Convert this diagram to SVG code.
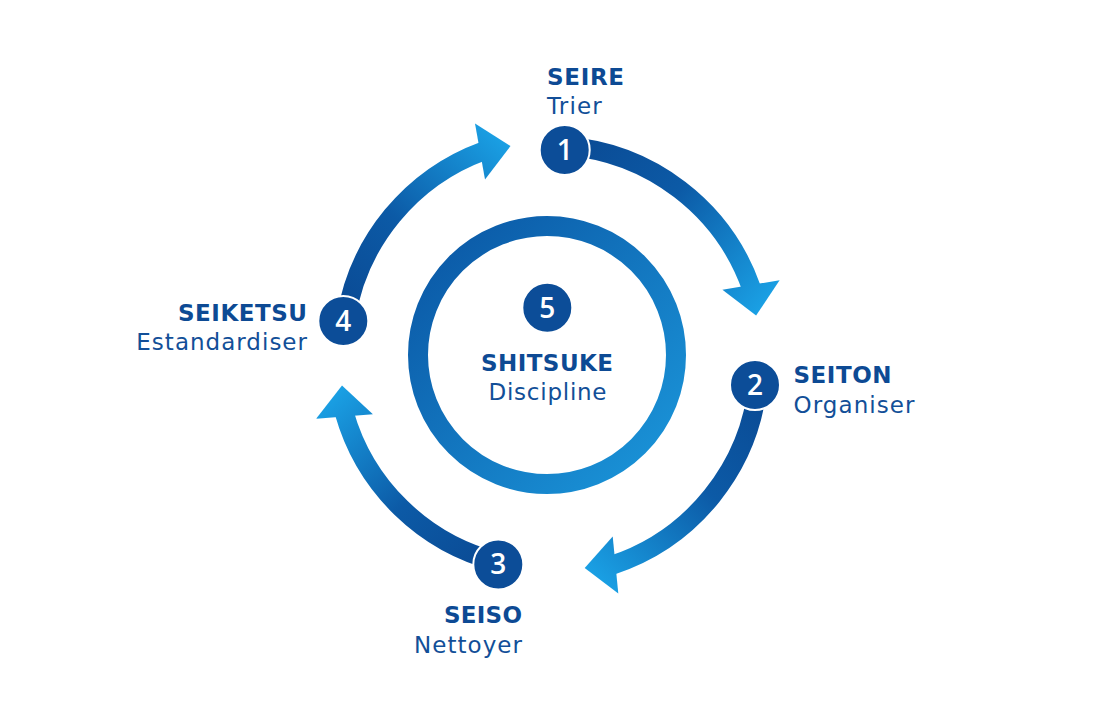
<svg xmlns="http://www.w3.org/2000/svg" width="1120" height="712" viewBox="0 0 1120 712">
  <defs>
    <linearGradient id="ringGrad" x1="0" y1="0" x2="1" y2="1">
      <stop offset="0" stop-color="#0a55a3"/>
      <stop offset="1" stop-color="#1b97db"/>
    </linearGradient>
    <linearGradient id="g1" gradientUnits="userSpaceOnUse" x1="565" y1="146" x2="756" y2="315">
      <stop offset="0" stop-color="#0a4a94"/>
      <stop offset="0.45" stop-color="#0c5aa6"/>
      <stop offset="1" stop-color="#1aa0e4"/>
    </linearGradient>
    <linearGradient id="g2" gradientUnits="userSpaceOnUse" x1="758" y1="383" x2="585" y2="568">
      <stop offset="0" stop-color="#0a4a94"/>
      <stop offset="0.45" stop-color="#0c5aa6"/>
      <stop offset="1" stop-color="#1aa0e4"/>
    </linearGradient>
    <linearGradient id="g3" gradientUnits="userSpaceOnUse" x1="498" y1="562" x2="342" y2="386">
      <stop offset="0" stop-color="#0a4a94"/>
      <stop offset="0.45" stop-color="#0c5aa6"/>
      <stop offset="1" stop-color="#1aa0e4"/>
    </linearGradient>
    <linearGradient id="g4" gradientUnits="userSpaceOnUse" x1="346" y1="318" x2="510" y2="146">
      <stop offset="0" stop-color="#0a4a94"/>
      <stop offset="0.45" stop-color="#0c5aa6"/>
      <stop offset="1" stop-color="#1aa0e4"/>
    </linearGradient>
  </defs>
  <style>
    .shaft { fill: none; stroke-width: 19; stroke-linecap: butt; }
    .badge { fill: #0c4d98; stroke: #ffffff; stroke-width: 2; }
    .num { font-family: "Open Sans", "DejaVu Sans", sans-serif; font-weight: 600; font-size: 28px; fill: #ffffff; text-anchor: middle; }
    .title { font-family: "DejaVu Sans", "Liberation Sans", sans-serif; font-weight: bold; font-size: 23px; fill: #0d4a94; }
    .sub { font-family: "DejaVu Sans", "Liberation Sans", sans-serif; font-size: 23px; fill: #124f98; }
  </style>
  <rect width="1120" height="712" fill="#ffffff"/>

  <g id="connectors">
    <g id="arrow-1-2">
      <path class="shaft" stroke="url(#g1)" d="M565,146 A214,214 0 0 1 751.7,288.9"/>
      <polygon fill="url(#g1)" points="779.6,280.2 756.1,315.6 722.4,289.8"/>
    </g>
    <g id="arrow-2-3">
      <path class="shaft" stroke="url(#g2)" d="M758,383 A214,214 0 0 1 611.5,565.4"/>
      <polygon fill="url(#g2)" points="618.3,593.4 584.7,568 612.7,536.6"/>
    </g>
    <g id="arrow-3-4">
      <path class="shaft" stroke="url(#g3)" d="M498,562 A214,214 0 0 1 344.2,412.5"/>
      <polygon fill="url(#g3)" points="372.9,414.2 342,385.6 316.1,418.8"/>
    </g>
    <g id="arrow-4-1">
      <path class="shaft" stroke="url(#g4)" d="M346,318 A214,214 0 0 1 483.9,150.8"/>
      <polygon fill="url(#g4)" points="485,179.5 510.5,146.1 475,123.5"/>
    </g>
  </g>

  <g id="node-5">
    <circle cx="547" cy="355" r="129" fill="none" stroke="url(#ringGrad)" stroke-width="20"/>
    <circle class="badge" cx="547.3" cy="307.7" r="25" stroke="none"/>
    <text class="num" x="547.3" y="317.6">5</text>
    <text class="title" x="547" y="370.5" text-anchor="middle" textLength="132" lengthAdjust="spacing">SHITSUKE</text>
    <text class="sub" x="547.5" y="399.5" text-anchor="middle" textLength="118" lengthAdjust="spacing">Discipline</text>
  </g>

  <g id="node-1">
    <circle class="badge" cx="564.7" cy="150" r="25"/>
    <text class="num" x="564.7" y="159.9">1</text>
    <text class="title" x="547" y="84.5" textLength="77" lengthAdjust="spacing">SEIRE</text>
    <text class="sub" x="547" y="113.5" textLength="54.7" lengthAdjust="spacing">Trier</text>
  </g>

  <g id="node-2">
    <circle class="badge" cx="755" cy="385" r="25"/>
    <text class="num" x="755" y="394.9">2</text>
    <text class="title" x="793.5" y="382.7" textLength="98" lengthAdjust="spacing">SEITON</text>
    <text class="sub" x="793.5" y="412.5" textLength="121" lengthAdjust="spacing">Organiser</text>
  </g>

  <g id="node-3">
    <circle class="badge" cx="498.3" cy="564.5" r="25"/>
    <text class="num" x="498.3" y="574.4">3</text>
    <text class="title" x="522" y="623.3" text-anchor="end" textLength="78" lengthAdjust="spacing">SEISO</text>
    <text class="sub" x="522" y="652.7" text-anchor="end" textLength="108" lengthAdjust="spacing">Nettoyer</text>
  </g>

  <g id="node-4">
    <circle class="badge" cx="343.3" cy="321" r="25"/>
    <text class="num" x="343.3" y="330.9">4</text>
    <text class="title" x="307" y="320.7" text-anchor="end" textLength="129" lengthAdjust="spacing">SEIKETSU</text>
    <text class="sub" x="307" y="350" text-anchor="end" textLength="170.7" lengthAdjust="spacing">Estandardiser</text>
  </g>
</svg>
